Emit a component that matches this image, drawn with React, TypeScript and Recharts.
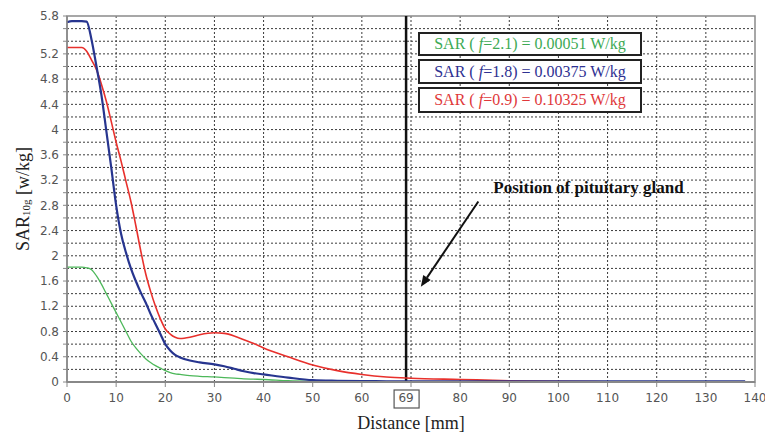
import {
  ComposedChart,
  Line,
  XAxis,
  YAxis,
  CartesianGrid,
  ReferenceLine,
  ReferenceArea,
} from "recharts";

const distance = [
  0, 1, 2, 3, 4, 5, 6, 7, 8, 9, 10, 11, 12, 13, 14, 15, 16, 17, 18, 19, 20, 21,
  22, 23, 25, 27, 30, 32, 34, 36, 38, 40, 45, 50, 55, 60, 65, 70, 80, 90, 100,
  110, 120, 130, 138,
];

// f = 2.1
const sarGreen = [
  1.82, 1.82, 1.82, 1.82, 1.81, 1.78, 1.68, 1.55, 1.4, 1.25, 1.1, 0.95, 0.8,
  0.65, 0.54, 0.45, 0.37, 0.31, 0.26, 0.22, 0.18, 0.15, 0.13, 0.12, 0.1, 0.09,
  0.08, 0.07, 0.06, 0.05, 0.045, 0.04, 0.02, 0.01, 0.005, 0.003, 0, 0, 0, 0, 0,
  0, 0, 0, 0,
];

// f = 1.8
const sarBlue = [
  5.7, 5.72, 5.72, 5.72, 5.71, 5.42, 5.0, 4.55, 3.98, 3.4, 2.8, 2.35, 2.05, 1.8,
  1.6, 1.42, 1.26, 1.08, 0.92, 0.76, 0.6, 0.5, 0.43, 0.39, 0.34, 0.31, 0.28,
  0.25, 0.21, 0.17, 0.14, 0.12, 0.07, 0.03, 0.02, 0.015, 0.012, 0.01, 0.01,
  0.01, 0.01, 0.01, 0.01, 0.01, 0.01,
];

// f = 0.9
const sarRed = [
  5.3, 5.3, 5.3, 5.3, 5.24, 5.1, 4.95, 4.72, 4.45, 4.13, 3.8, 3.5, 3.18, 2.86,
  2.48, 2.08, 1.72, 1.44, 1.2, 1.0, 0.84, 0.76, 0.71, 0.69, 0.71, 0.75, 0.78,
  0.77, 0.73, 0.67, 0.61, 0.54, 0.4, 0.27, 0.18, 0.12, 0.08, 0.06, 0.04, 0.02,
  0.01, 0.005, 0.005, 0.005, 0.005,
];

const xTicks = [0, 10, 20, 30, 40, 50, 60, 69, 70, 80, 90, 100, 110, 120, 130, 140];
const xGrid = [10, 20, 30, 40, 50, 60, 70, 80, 90, 100, 110, 120, 130];
const yTicks = [
  0, 0.2, 0.4, 0.6, 0.8, 1, 1.2, 1.4, 1.6, 1.8, 2, 2.2, 2.4, 2.6, 2.8, 3, 3.2,
  3.4, 3.6, 3.8, 4, 4.2, 4.4, 4.6, 4.8, 5, 5.2, 5.4, 5.6, 5.8,
];
const yLabels = [0, 0.4, 0.8, 1.2, 1.6, 2, 2.4, 2.8, 3.2, 3.6, 4, 4.4, 4.8, 5.2, 5.8];
const pituitary = 69;

const legendRows = [
  { f: "2.1", sar: "0.00051", color: "#3daa55" },
  { f: "1.8", sar: "0.00375", color: "#2e3192" },
  { f: "0.9", sar: "0.10325", color: "#e0383a" },
];

const rows = distance.map((d, i) => ({
  d,
  green: sarGreen[i],
  blue: sarBlue[i],
  red: sarRed[i],
}));

const tickFont = { fontFamily: "DejaVu Sans", fontSize: 12, fill: "#555" };

const XTick = (props: any) => {
  const { x, y, payload } = props;
  const v = payload.value;
  return (
    <g>
      {v !== pituitary && (
        <line x1={x} x2={x} y1={y - 9} y2={y - 4} stroke="#888" />
      )}
      {v === pituitary && (
        <rect x={x - 12} y={y - 1} width={25} height={18} fill="none" stroke="#555" strokeWidth={1.2} />
      )}
      {v !== 70 && (
        <text x={x} y={y} dy="0.9em" textAnchor="middle" {...tickFont}>
          {v}
        </text>
      )}
    </g>
  );
};

const YTick = (props: any) => {
  const { x, y, payload } = props;
  const v = payload.value;
  if (!yLabels.some((l) => Math.abs(l - v) < 1e-6)) return null;
  return (
    <text x={x} y={y} dy="0.35em" textAnchor="end" {...tickFont}>
      {v}
    </text>
  );
};

const Arrow = (props: any) => {
  const { x1, y1, x2, y2 } = props;
  const ang = Math.atan2(y2 - y1, x2 - x1);
  const len = 11;
  const w = 4.5;
  const bx = x2 - len * Math.cos(ang);
  const by = y2 - len * Math.sin(ang);
  const px = -Math.sin(ang) * w;
  const py = Math.cos(ang) * w;
  return (
    <g>
      <line x1={x1} y1={y1} x2={bx} y2={by} stroke="#111" strokeWidth={2} />
      <polygon
        points={`${x2},${y2} ${bx + px},${by + py} ${bx - px},${by - py}`}
        fill="#111"
      />
      <text
        x={x1 + 15}
        y={y1 - 9}
        fontFamily="Liberation Serif"
        fontWeight="bold"
        fontSize={17}
        fill="#111"
      >
        Position of pituitary gland
      </text>
    </g>
  );
};

export default function App() {
  return (
    <div style={{ position: "relative", width: 765, height: 435, background: "#fff" }}>
      <style>{`body{margin:0}`}</style>
      <ComposedChart
        width={765}
        height={435}
        data={rows}
        margin={{ top: 16, right: 10, bottom: 0, left: 0 }}
      >
        <CartesianGrid
          stroke="#3a3a3a"
          strokeDasharray="2 2"
          verticalValues={xGrid}
          horizontalValues={yTicks.slice(1, -1)}
        />
        <ReferenceArea
          x1={0}
          x2={140}
          y1={0}
          y2={5.8}
          fill="none"
          fillOpacity={0}
          stroke="#8a8a8a"
          strokeWidth={1.5}
        />
        <XAxis
          type="number"
          dataKey="d"
          domain={[0, 140]}
          ticks={xTicks}
          interval={0}
          height={53}
          tickSize={5}
          tickMargin={4}
          tickLine={false}
          axisLine={{ stroke: "#888", strokeWidth: 2 }}
          tick={<XTick />}
          label={(p: any) => (
            <text
              x={p.viewBox.x + p.viewBox.width / 2}
              y={429}
              textAnchor="middle"
              fontFamily="Liberation Serif"
              fontSize={18}
              fill="#222"
            >
              Distance [mm]
            </text>
          )}
        />
        <YAxis
          type="number"
          domain={[0, 5.8]}
          ticks={yTicks}
          interval={0}
          width={67}
          tickSize={4}
          tickMargin={4}
          tickLine={{ stroke: "#888" }}
          axisLine={{ stroke: "#888", strokeWidth: 1.5 }}
          tick={<YTick />}
          label={(p: any) => {
            const cx = 23;
            const cy = p.viewBox.y + p.viewBox.height / 2;
            return (
              <text
                x={cx}
                y={cy}
                transform={`rotate(-90 ${cx} ${cy})`}
                textAnchor="middle"
                dominantBaseline="central"
                fontFamily="Liberation Serif"
                fontSize={18}
                fill="#222"
              >
                SAR
                <tspan fontSize={11} dy={3}>10g</tspan>
                <tspan dy={-3}> [w/kg]</tspan>
              </text>
            );
          }}
        />
        <ReferenceLine x={pituitary} stroke="#111" strokeWidth={2.5} />
        <Line
          type="monotone"
          dataKey="green"
          stroke="#4db85a"
          strokeWidth={1.3}
          dot={false}
          isAnimationActive={false}
        />
        <Line
          type="monotone"
          dataKey="red"
          stroke="#e8302c"
          strokeWidth={1.6}
          dot={false}
          isAnimationActive={false}
        />
        <Line
          type="monotone"
          dataKey="blue"
          stroke="#27358f"
          strokeWidth={2.2}
          dot={false}
          isAnimationActive={false}
        />
        <ReferenceLine
          segment={[
            { x: 83.7, y: 2.86 },
            { x: 72, y: 1.51 },
          ]}
          shape={<Arrow />}
        />
      </ComposedChart>
      {legendRows.map((r, i) => (
        <div
          key={r.f}
          style={{
            position: "absolute",
            left: 418,
            top: [32, 59, 87][i],
            width: 220,
            height: [20, 21, 22][i],
            border: "2px solid #222",
            background: "#fff",
            color: r.color,
            fontFamily: "Liberation Serif",
            fontSize: 16,
            lineHeight: `${[20, 21, 22][i]}px`,
            textAlign: "center",
            whiteSpace: "nowrap",
          }}
        >
          SAR ( <i>f</i>={r.f}) = {r.sar} W/kg
        </div>
      ))}
    </div>
  );
}
